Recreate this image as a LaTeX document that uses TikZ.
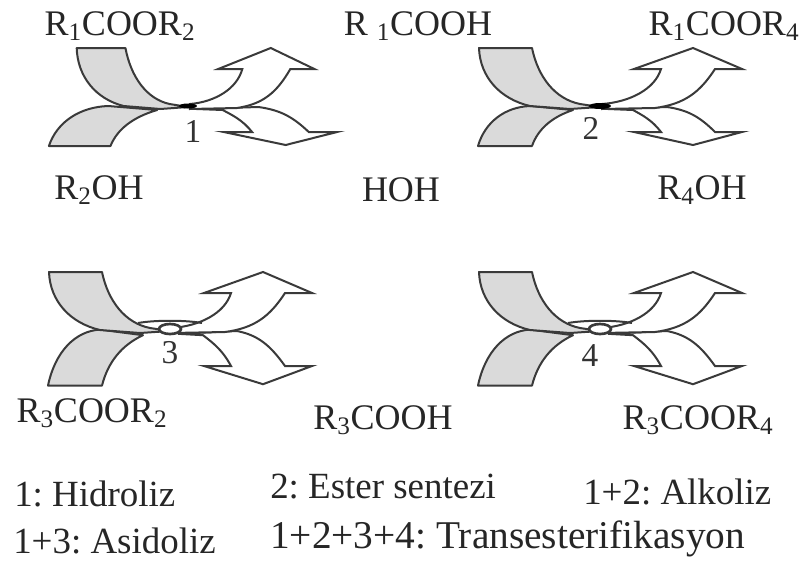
\documentclass[tikz,border=0pt]{standalone}
\usepackage{fontspec}
\setmainfont{Liberation Serif}
\usetikzlibrary{positioning}
\definecolor{lightgrey}{HTML}{DADADA}
\definecolor{inkgrey}{HTML}{3A3A3A}
\frenchspacing
\begin{document}
\begin{tikzpicture}[
  x=.75pt,y=-.75pt,
  substrate/.style={draw=inkgrey,line width=1.5pt,fill=lightgrey,line join=round},
  product/.style={draw=inkgrey,line width=1.5pt,fill=white,line join=miter},
  lab/.style={text=black!85,font=\fontsize{27}{30}\selectfont,inner sep=0pt},
  num/.style={text=black!80,font=\fontsize{25}{28}\selectfont,inner sep=0pt},
  legend/.style={text=black!85,font=\fontsize{27.7}{30}\selectfont,inner sep=0pt,anchor=west}
]
\useasboundingbox (0,0) rectangle (808,561);
\foreach \n/\cx/\cy/\sa/\sb/\sc/\sd/\ly in {1/188/107/.92/1.14/.89/1.05/1,2/600/107/1/1/1/1/1,3/170/331/1/1/1/1/1.4,4/600/331/1/1/1/1/1.4} {
  \begin{scope}[shift={(\cx,\cy)}]
    \begin{scope}[xscale=\sb,yscale=\ly]
      \draw[substrate] (-122,39) .. controls (-115,15) and (-95,0) .. (-70,-1) -- (-27,3) .. controls (-48,10) and (-62,22) .. (-68,39) -- cycle;
    \end{scope}
    \begin{scope}[xscale=\sa]
      \draw[substrate] (-121,-59) -- (-68,-59) .. controls (-62,-30) and (-45,-8) .. (-20,-3) -- (0,0) -- (-30,2) -- (-70,-1) .. controls (-100,-8) and (-120,-30) .. cycle;
    \end{scope}
    \begin{scope}[xscale=\sd,yscale=\ly]
      \draw[product] (8,2) -- (33,3) .. controls (42,8) and (52,13) .. (61,25) -- (34,25) -- (93,38) -- (142,25) -- (115,25) .. controls (100,10) and (88,3) .. (67,0) -- cycle;
    \end{scope}
    \begin{scope}[xscale=\sc]
      \draw[product] (2,-3) .. controls (30,-5) and (55,-18) .. (61,-38) -- (34,-38) -- (93,-59) -- (142,-38) -- (115,-38) .. controls (100,-15) and (85,-3) .. (55,1) -- (2,2) -- cycle;
    \end{scope}
  \end{scope}
}
\fill[black] (188,106) ellipse (9 and 2.5);
\fill[black] (600,106) ellipse (11 and 3);
\foreach \cx in {170,600} {
  \draw[inkgrey,line width=1.5pt] (\cx-32,323) .. controls (\cx-15,320) and (\cx+15,320) .. (\cx+32,323);
  \draw[inkgrey,line width=2pt,fill=white] (\cx,329) ellipse (11 and 5);
}
\node[num] (n1) at (193,131) {1};
\node[num] (n2) at (591,128) {2};
\node[num] (n3) at (170,353) {3};
\node[num] (n4) at (590,356) {4};
\node[lab] (r1c2) at (120,26) {R\textsubscript{1}COOR\textsubscript{2}};
\node[lab] (r1h) at (418,26) {R \textsubscript{1}COOH};
\node[lab] (r1c4) at (724,26) {R\textsubscript{1}COOR\textsubscript{4}};
\node[lab] (r2oh) at (99,190) {R\textsubscript{2}OH};
\node[lab] (hoh) at (401,190) {HOH};
\node[lab] (r4oh) at (702,190) {R\textsubscript{4}OH};
\node[lab] (r3c2) at (92,413) {R\textsubscript{3}COOR\textsubscript{2}};
\node[lab] (r3h) at (383,420) {R\textsubscript{3}COOH};
\node[lab] (r3c4) at (698,420) {R\textsubscript{3}COOR\textsubscript{4}};
\node[legend] (hid) at (14,494) {1: Hidroliz};
\node[legend] (est) at (270,487) {2: Ester sentezi};
\node[legend] (alk) at (583,492) {1+2: Alkoliz};
\node[legend] (asi) at (13,541) {1+3: Asidoliz};
\node[legend,font=\fontsize{29.5}{31}\selectfont] (tra) at (270,539) {1+2+3+4: Transesterifikasyon};
\end{tikzpicture}
\end{document}
